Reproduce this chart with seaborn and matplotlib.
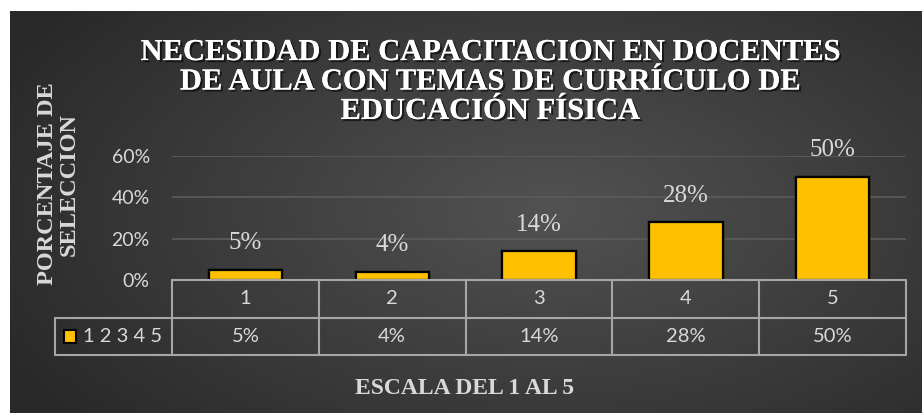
import numpy as np
import matplotlib.pyplot as plt
import matplotlib.patheffects as pe
from matplotlib.colors import LinearSegmentedColormap
from matplotlib.patches import Rectangle
import seaborn as sns

categories = ['1', '2', '3', '4', '5']
values = [0.05, 0.04, 0.14, 0.28, 0.50]
value_labels = ['5%', '4%', '14%', '28%', '50%']
yticks = [0, 0.2, 0.4, 0.6]
ytick_labels = ['0%', '20%', '40%', '60%']
series_name = '1 2 3 4 5'

title = 'NECESIDAD DE CAPACITACION EN DOCENTES\nDE AULA CON TEMAS DE CURRÍCULO DE\nEDUCACIÓN FÍSICA'
ylabel = 'PORCENTAJE DE\nSELECCION'
xlabel = 'ESCALA DEL 1 AL 5'

sns.set_theme(style='dark')
plt.rcParams['font.family'] = ['Lato', 'DejaVu Sans']

W, H = 922, 413
fig = plt.figure(figsize=(W / 100, H / 100), dpi=100, facecolor='white')

def box(x0, y0, x1, y1):
    # pixel box (top-left origin) -> figure fraction rect
    return [x0 / W, 1 - y1 / H, (x1 - x0) / W, (y1 - y0) / H]

# dark radial background
bg = fig.add_axes(box(10, 11, 922, 413), zorder=-10)
yy, xx = np.mgrid[0:402, 0:912]
r = np.sqrt(((xx - 540) / 620) ** 2 + ((yy - 200) / 330) ** 2)
cmap = LinearSegmentedColormap.from_list('bg', ['#525252', '#292929'])
bg.imshow(np.clip(r, 0, 1), cmap=cmap, aspect='auto', vmin=0, vmax=1)
bg.axis('off')

light = '#d9d9d9'
grid_c = '#5c5c5c'
line_c = '#a6a6a6'

# main bar axes
ax = fig.add_axes(box(172, 156, 906, 280))
ax.patch.set_alpha(0)
sns.barplot(x=categories, y=values, color='#FFC000', saturation=1,
            edgecolor='black', linewidth=1.6, width=0.5, ax=ax, zorder=3)
for b in ax.patches:
    b.set_path_effects([pe.withSimplePatchShadow(offset=(1.5, -1.5), alpha=0.4), pe.Normal()])
ax.set_ylim(0, 0.6)
ax.set_xlim(-0.5, 4.5)
ax.set_yticks(yticks)
ax.set_yticklabels(ytick_labels, color=light, fontsize=14)
ax.tick_params(axis='y', length=0, pad=16)
ax.set_xticks([])
ax.set_xlabel('')
ax.set_ylabel('')
for s in ax.spines.values():
    s.set_visible(False)
ax.grid(axis='y', color=grid_c, lw=1.2)
ax.set_axisbelow(True)
ax.bar_label(ax.containers[0], labels=value_labels, padding=11, fontsize=18,
             color=light, family='Liberation Serif', clip_on=False)

# data table below
tx = fig.add_axes(box(172, 280, 906, 355))
tx.patch.set_alpha(0)
tx.set_xlim(-0.5, 4.5)
tx.set_ylim(0, 2)
tx.axis('off')
n = len(categories)
legend_left = -0.5 - 117 / 146.8
kw = dict(color=line_c, lw=1.5, clip_on=False)
tx.plot([-0.5, n - 0.5], [2, 2], **kw)
tx.plot([legend_left, n - 0.5], [1, 1], **kw)
tx.plot([legend_left, n - 0.5], [0, 0], **kw)
tx.plot([legend_left, legend_left], [0, 1], **kw)
for i in range(n + 1):
    tx.plot([i - 0.5, i - 0.5], [0, 2], **kw)
for i, (c, v) in enumerate(zip(categories, value_labels)):
    tx.text(i, 1.5, c, ha='center', va='center', color=light, fontsize=14.5)
    tx.text(i, 0.5, v, ha='center', va='center', color=light, fontsize=14.5)
tx.add_patch(Rectangle((legend_left + 0.06, 0.33), 0.085, 0.34, facecolor='#FFC000',
                       edgecolor='black', lw=1.5, clip_on=False))
tx.text(legend_left + 0.19, 0.5, series_name, ha='left', va='center', color=light, fontsize=14.5)

# titles
shadow = [pe.withSimplePatchShadow(offset=(1.5, -1.5), shadow_rgbFace='black', alpha=0.6), pe.Normal()]
fig.text(490 / W, 1 - 82 / H, title, ha='center', va='center', color='white',
         fontsize=22, fontweight='bold', family='Liberation Serif',
         linespacing=1.02, path_effects=shadow)
fig.text(58 / W, 1 - 184 / H, ylabel, ha='center', va='center', rotation=90,
         color=light, fontsize=17.5, fontweight='bold', family='Liberation Serif',
         linespacing=1.05, multialignment='center')
fig.text(465 / W, 1 - 388 / H, xlabel, ha='center', va='center', color=light,
         fontsize=17, fontweight='bold', family='Liberation Serif')

fig.savefig('out.png', dpi=100, facecolor='white')
